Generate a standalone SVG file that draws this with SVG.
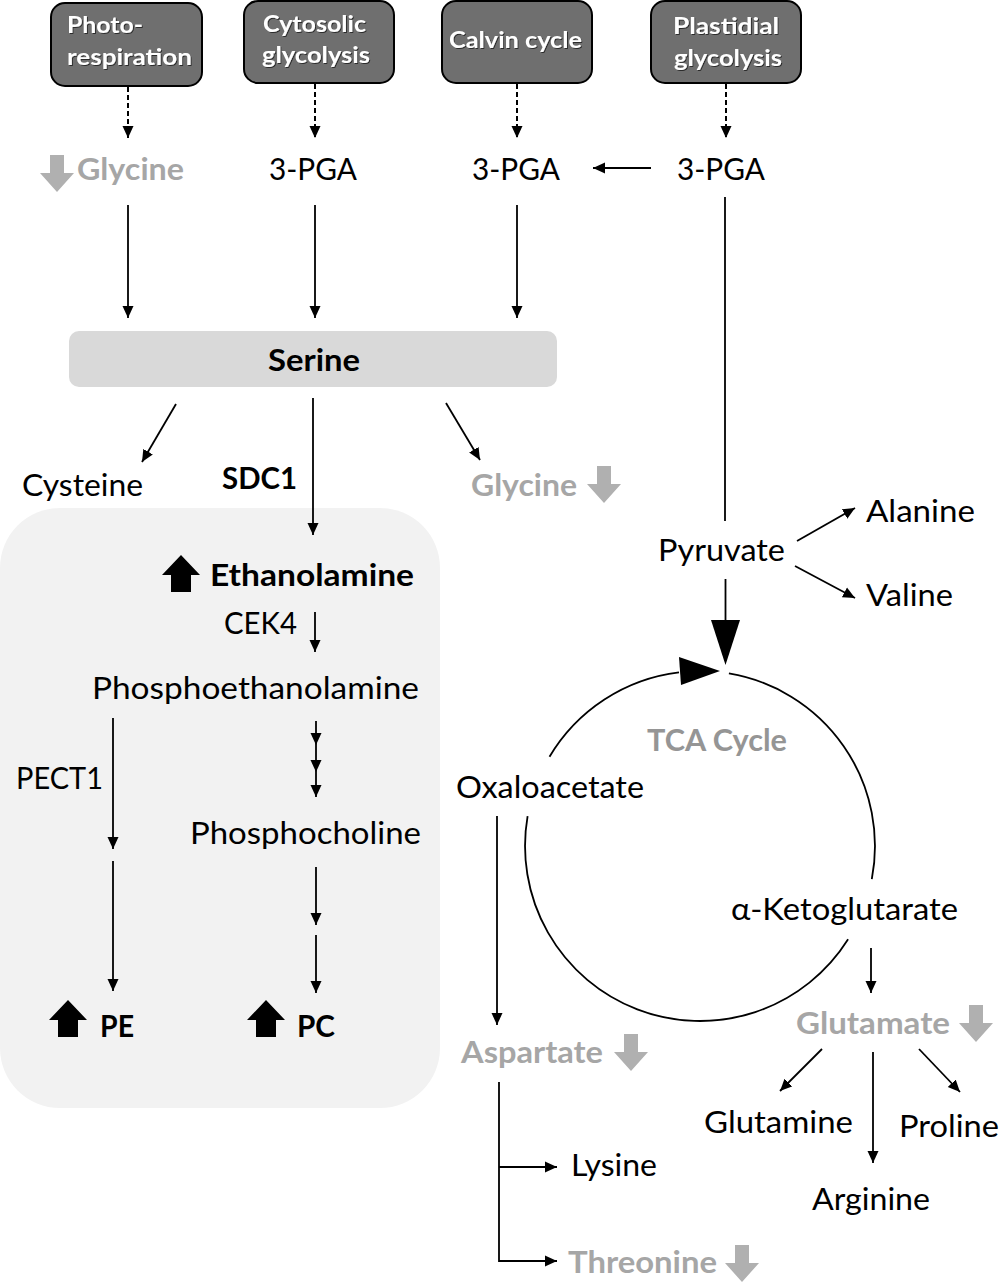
<svg xmlns="http://www.w3.org/2000/svg" width="1000" height="1283" viewBox="0 0 1000 1283">
<style>
.t{font-family:Lato,"Liberation Sans",sans-serif;font-size:31px;fill:#000}
.b{font-weight:bold}
.g{fill:#a6a6a6;font-weight:bold}
.tca{fill:#959595;font-weight:bold}
.w{fill:#fff;font-weight:bold;font-size:22.5px;filter:url(#sh)}
.box{fill:#6f6f6f;stroke:#000;stroke-width:2}
.ln{stroke:#000;stroke-width:1.8;fill:none}
.ar{marker-end:url(#ah)}
.ds{stroke-dasharray:5 3;stroke-width:2}
.up{fill:#000}
.dn{fill:#b0b0b0}
</style>
<defs>
<marker id="ah" markerUnits="userSpaceOnUse" markerWidth="13" markerHeight="12" refX="12" refY="6" orient="auto">
<path d="M0,0.5 L12,6 L0,11.5 Z" fill="#000"/>
</marker>
<filter id="sh" x="-10%" y="-20%" width="130%" height="160%">
<feDropShadow dx="1" dy="1" stdDeviation="0.6" flood-color="#000" flood-opacity="0.6"/>
</filter>
<path id="uparrow" d="M19,0 L38,20 L29,20 L29,37 L9,37 L9,20 L0,20 Z"/>
<path id="dnarrow" d="M10,0 L24,0 L24,18 L34,18 L17,37 L0,18 L10,18 Z"/>
</defs>

<rect x="0" y="508" width="440" height="600" rx="60" fill="#f2f2f2"/>

<g id="photorespiration">
<rect class="box" x="51" y="3" width="151" height="83" rx="14"/>
<text class="t w" x="67" y="33" textLength="76" lengthAdjust="spacingAndGlyphs">Photo-</text>
<text class="t w" x="67" y="65" textLength="125" lengthAdjust="spacingAndGlyphs">respiration</text>
</g>
<g id="cytosolic-glycolysis">
<rect class="box" x="244" y="1" width="150" height="82" rx="14"/>
<text class="t w" x="263" y="32" textLength="103" lengthAdjust="spacingAndGlyphs">Cytosolic</text>
<text class="t w" x="262" y="63" textLength="108" lengthAdjust="spacingAndGlyphs">glycolysis</text>
</g>
<g id="calvin-cycle">
<rect class="box" x="442" y="1" width="150" height="82" rx="14"/>
<text class="t w" x="449" y="48" textLength="133" lengthAdjust="spacingAndGlyphs">Calvin cycle</text>
</g>
<g id="plastidial-glycolysis">
<rect class="box" x="651" y="1" width="150" height="82" rx="14"/>
<text class="t w" x="673" y="34" textLength="106" lengthAdjust="spacingAndGlyphs">Plastidial</text>
<text class="t w" x="674" y="66" textLength="108" lengthAdjust="spacingAndGlyphs">glycolysis</text>
</g>

<g id="glycine-top">
<use href="#dnarrow" class="dn" x="40" y="155"/>
<text class="t g" x="77" y="180" textLength="107" lengthAdjust="spacingAndGlyphs">Glycine</text>
</g>
<g id="pga-cyto"><text class="t" x="269" y="180" textLength="88" lengthAdjust="spacingAndGlyphs">3-PGA</text></g>
<g id="pga-calvin"><text class="t" x="472" y="180" textLength="88" lengthAdjust="spacingAndGlyphs">3-PGA</text></g>
<g id="pga-plastid"><text class="t" x="677" y="180" textLength="88" lengthAdjust="spacingAndGlyphs">3-PGA</text></g>

<g id="serine">
<rect x="69" y="331" width="488" height="56" rx="10" fill="#d9d9d9"/>
<text class="t b" x="268" y="371" textLength="92" lengthAdjust="spacingAndGlyphs">Serine</text>
</g>
<g id="cysteine"><text class="t" x="22" y="496" textLength="121" lengthAdjust="spacingAndGlyphs">Cysteine</text></g>
<g id="sdc1"><text class="t b" x="222" y="489" textLength="75" lengthAdjust="spacingAndGlyphs">SDC1</text></g>
<g id="glycine-mid">
<text class="t g" x="471" y="496" textLength="106" lengthAdjust="spacingAndGlyphs">Glycine</text>
<use href="#dnarrow" class="dn" x="587" y="466"/>
</g>

<g id="ethanolamine">
<use href="#uparrow" class="up" x="162" y="555"/>
<text class="t b" x="210" y="586" textLength="204" lengthAdjust="spacingAndGlyphs">Ethanolamine</text>
</g>
<g id="cek4"><text class="t" x="224" y="634" textLength="73" lengthAdjust="spacingAndGlyphs">CEK4</text></g>
<g id="phosphoethanolamine"><text class="t" x="92" y="699" textLength="327" lengthAdjust="spacingAndGlyphs">Phosphoethanolamine</text></g>
<g id="pect1"><text class="t" x="16" y="789" textLength="87" lengthAdjust="spacingAndGlyphs">PECT1</text></g>
<g id="phosphocholine"><text class="t" x="190" y="844" textLength="231" lengthAdjust="spacingAndGlyphs">Phosphocholine</text></g>
<g id="pe">
<use href="#uparrow" class="up" x="49" y="1000"/>
<text class="t b" x="100" y="1037" textLength="34" lengthAdjust="spacingAndGlyphs">PE</text>
</g>
<g id="pc">
<use href="#uparrow" class="up" x="247" y="1000"/>
<text class="t b" x="297" y="1037" textLength="38" lengthAdjust="spacingAndGlyphs">PC</text>
</g>

<g id="pyruvate"><text class="t" x="658" y="561" textLength="127" lengthAdjust="spacingAndGlyphs">Pyruvate</text></g>
<g id="alanine"><text class="t" x="866" y="522" textLength="109" lengthAdjust="spacingAndGlyphs">Alanine</text></g>
<g id="valine"><text class="t" x="866" y="606" textLength="87" lengthAdjust="spacingAndGlyphs">Valine</text></g>

<g id="tca-cycle">
<path class="ln" d="M549.5,756.7 A175,175 0 0 1 679,672.3"/>
<polygon points="679,657 681,685 720,671" fill="#000"/>
<path class="ln" d="M728.9,673.4 A175,175 0 0 1 871.8,879.1"/>
<path class="ln" d="M848.1,939.3 A175,175 0 0 1 527.6,816.2"/>
<text class="t tca" x="647" y="751" textLength="140" lengthAdjust="spacingAndGlyphs">TCA Cycle</text>
</g>
<g id="oxaloacetate"><text class="t" x="456" y="798" textLength="188" lengthAdjust="spacingAndGlyphs">Oxaloacetate</text></g>
<g id="alpha-ketoglutarate"><text class="t" x="731" y="920" textLength="227" lengthAdjust="spacingAndGlyphs">α-Ketoglutarate</text></g>
<g id="glutamate">
<text class="t g" x="796" y="1034" textLength="154" lengthAdjust="spacingAndGlyphs">Glutamate</text>
<use href="#dnarrow" class="dn" x="959" y="1005"/>
</g>
<g id="aspartate">
<text class="t g" x="461" y="1063" textLength="142" lengthAdjust="spacingAndGlyphs">Aspartate</text>
<use href="#dnarrow" class="dn" x="614" y="1034"/>
</g>
<g id="glutamine"><text class="t" x="704" y="1133" textLength="149" lengthAdjust="spacingAndGlyphs">Glutamine</text></g>
<g id="proline"><text class="t" x="899" y="1137" textLength="100" lengthAdjust="spacingAndGlyphs">Proline</text></g>
<g id="arginine"><text class="t" x="812" y="1210" textLength="118" lengthAdjust="spacingAndGlyphs">Arginine</text></g>
<g id="lysine"><text class="t" x="571" y="1176" textLength="86" lengthAdjust="spacingAndGlyphs">Lysine</text></g>
<g id="threonine">
<text class="t g" x="568" y="1273" textLength="149" lengthAdjust="spacingAndGlyphs">Threonine</text>
<use href="#dnarrow" class="dn" x="725" y="1245"/>
</g>

<g id="connectors">
<line class="ln ar ds" x1="128" y1="87" x2="128" y2="138"/>
<line class="ln ar ds" x1="315" y1="84" x2="315" y2="138"/>
<line class="ln ar ds" x1="517" y1="84" x2="517" y2="138"/>
<line class="ln ar ds" x1="726" y1="84" x2="726" y2="138"/>
<line class="ln ar" x1="651" y1="168" x2="593" y2="168"/>
<line class="ln ar" x1="128" y1="205" x2="128" y2="318"/>
<line class="ln ar" x1="315" y1="205" x2="315" y2="318"/>
<line class="ln ar" x1="517" y1="205" x2="517" y2="318"/>
<line class="ln" x1="725" y1="197" x2="725" y2="521"/>
<line class="ln ar" x1="176" y1="404" x2="142" y2="462"/>
<line class="ln ar" x1="313" y1="398" x2="313" y2="535"/>
<line class="ln ar" x1="446" y1="403" x2="480" y2="460"/>
<line class="ln ar" x1="315" y1="612" x2="315" y2="652"/>
<line class="ln ar" x1="113" y1="718" x2="113" y2="849"/>
<line class="ln ar" x1="113" y1="861" x2="113" y2="991"/>
<line class="ln ar" x1="316" y1="721" x2="316" y2="745"/>
<line class="ln ar" x1="316" y1="745" x2="316" y2="772"/>
<line class="ln ar" x1="316" y1="772" x2="316" y2="797"/>
<line class="ln ar" x1="316" y1="867" x2="316" y2="925"/>
<line class="ln ar" x1="316" y1="935" x2="316" y2="993"/>
<line class="ln ar" x1="797" y1="541" x2="855" y2="508"/>
<line class="ln ar" x1="795" y1="566" x2="855" y2="598"/>
<line class="ln" x1="725.5" y1="579" x2="725.5" y2="622"/>
<polygon points="711,620 740,620 725.5,665" fill="#000"/>
<line class="ln ar" x1="497" y1="816" x2="497" y2="1025"/>
<line class="ln ar" x1="871" y1="948" x2="871" y2="993"/>
<line class="ln ar" x1="822" y1="1049" x2="780" y2="1091"/>
<line class="ln ar" x1="873" y1="1052" x2="873" y2="1163"/>
<line class="ln ar" x1="919" y1="1049" x2="960" y2="1092"/>
<path class="ln ar" d="M499,1082 V1261 H557"/>
<line class="ln ar" x1="499" y1="1167" x2="557" y2="1167"/>
</g>
</svg>
